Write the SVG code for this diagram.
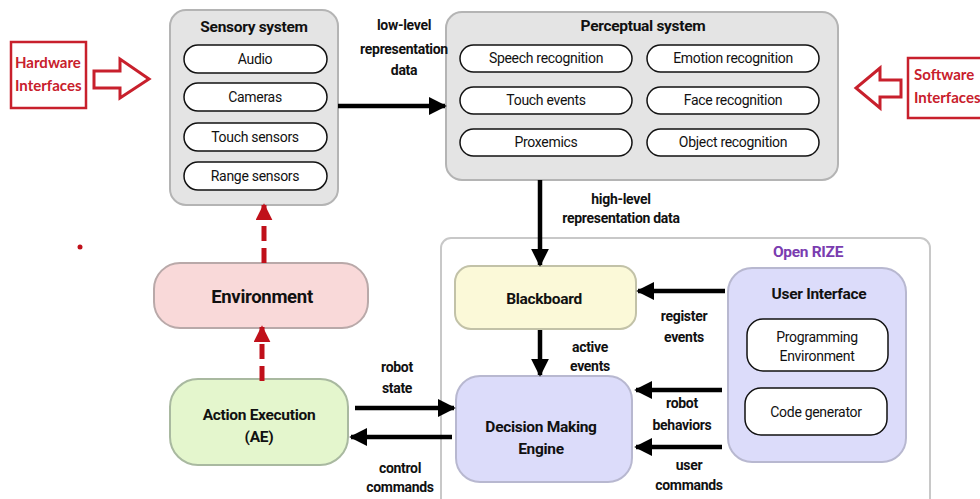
<svg xmlns="http://www.w3.org/2000/svg" width="980" height="499" viewBox="0 0 980 499">
  <style>
    .lbl { font-family: "Roboto", "Liberation Sans", sans-serif; font-weight: bold; font-size: 14px; fill: #111; text-anchor: middle; letter-spacing: -0.3px; }
    .title { font-family: "Roboto", "Liberation Sans", sans-serif; font-weight: bold; font-size: 15.5px; fill: #111; text-anchor: middle; letter-spacing: -0.3px; }
    .item { font-family: "Roboto", "Liberation Sans", sans-serif; font-size: 14px; fill: #111; text-anchor: middle; letter-spacing: -0.3px; }
    .pill { fill: #fff; stroke: #111; stroke-width: 1.5; }
    .group { fill: #e4e4e4; stroke: #b4b4b4; stroke-width: 2; }
    .iface { font-family: "Lato", "Open Sans", sans-serif; font-weight: bold; font-size: 15px; fill: #c8202c; }
    .iframe { fill: #fff; stroke: #c8202c; stroke-width: 2.5; }
    .hollow { fill: #fff; stroke: #c8202c; stroke-width: 3; stroke-linejoin: miter; }
    .flow { stroke: #000; stroke-width: 4.5; fill: none; }
    .dash { stroke: #c0101a; stroke-width: 5; stroke-dasharray: 15 7; fill: none; }
  </style>
  <defs>
    <marker id="ah" viewBox="0 0 10 10" refX="9" refY="5" markerWidth="4" markerHeight="4" markerUnits="strokeWidth" orient="auto">
      <path d="M0,0 L10,5 L0,10 z" fill="#000"/>
    </marker>
    <marker id="ahr" viewBox="0 0 10 10" refX="9" refY="5" markerWidth="3.4" markerHeight="3.4" markerUnits="strokeWidth" orient="auto">
      <path d="M0,0 L10,5 L0,10 z" fill="#c0101a"/>
    </marker>
  </defs>

  <rect width="980" height="499" fill="#fff"/>

  <!-- hardware interfaces callout -->
  <g id="hardware-interfaces">
    <rect class="iframe" x="11" y="42" width="75" height="66"/>
    <text class="iface" x="15" y="68">Hardware</text>
    <text class="iface" x="15" y="91">Interfaces</text>
    <polygon class="hollow" points="94,71 120,71 120,59 149,79 120,98 120,88 94,88"/>
  </g>

  <!-- software interfaces callout -->
  <g id="software-interfaces">
    <rect class="iframe" x="908" y="58" width="80" height="60"/>
    <text class="iface" x="914" y="80">Software</text>
    <text class="iface" x="914" y="103">Interfaces</text>
    <polygon class="hollow" points="901,80 880,80 880,68 856,88 880,108 880,97 901,97"/>
  </g>

  <circle cx="80" cy="247" r="2.5" fill="#c0101a"/>

  <!-- Open RIZE frame -->
  <g id="open-rize">
    <rect x="441" y="238" width="489" height="270" rx="10" fill="#fff" stroke="#c8c8c8" stroke-width="2"/>
    <text x="808" y="257" font-family="Roboto, Liberation Sans, sans-serif" font-weight="bold" font-size="15.5" letter-spacing="-0.3" fill="#7a3cb0" text-anchor="middle">Open RIZE</text>
  </g>

  <!-- Sensory system -->
  <g id="sensory-system">
    <rect class="group" x="170" y="10" width="168" height="195" rx="16"/>
    <text class="title" x="254" y="32">Sensory system</text>
    <rect class="pill" x="184" y="45" width="143" height="28" rx="14"/>
    <text class="item" x="255" y="64">Audio</text>
    <rect class="pill" x="184" y="83" width="143" height="28" rx="14"/>
    <text class="item" x="255" y="102">Cameras</text>
    <rect class="pill" x="184" y="123" width="143" height="28" rx="14"/>
    <text class="item" x="255" y="142">Touch sensors</text>
    <rect class="pill" x="184" y="162" width="143" height="28" rx="14"/>
    <text class="item" x="255" y="181">Range sensors</text>
  </g>

  <!-- Perceptual system -->
  <g id="perceptual-system">
    <rect class="group" x="446" y="12" width="392" height="168" rx="16"/>
    <text class="title" x="643" y="31">Perceptual system</text>
    <rect class="pill" x="460" y="45" width="172" height="27" rx="13.5"/>
    <text class="item" x="546" y="63">Speech recognition</text>
    <rect class="pill" x="647" y="45" width="172" height="27" rx="13.5"/>
    <text class="item" x="733" y="63">Emotion recognition</text>
    <rect class="pill" x="460" y="87" width="172" height="27" rx="13.5"/>
    <text class="item" x="546" y="105">Touch events</text>
    <rect class="pill" x="647" y="87" width="172" height="27" rx="13.5"/>
    <text class="item" x="733" y="105">Face recognition</text>
    <rect class="pill" x="460" y="129" width="172" height="27" rx="13.5"/>
    <text class="item" x="546" y="147">Proxemics</text>
    <rect class="pill" x="647" y="129" width="172" height="27" rx="13.5"/>
    <text class="item" x="733" y="147">Object recognition</text>
  </g>

  <!-- Environment -->
  <g id="environment">
    <rect x="154" y="263" width="214" height="65" rx="26" fill="#f9d9d9" stroke="#b9a9a9" stroke-width="2"/>
    <text x="262" y="303" font-family="Roboto, Liberation Sans, sans-serif" font-weight="bold" font-size="18.5" letter-spacing="-0.3" fill="#111" text-anchor="middle">Environment</text>
  </g>

  <!-- Action Execution -->
  <g id="action-execution">
    <rect x="170" y="379" width="178" height="86" rx="28" fill="#e4f6cd" stroke="#a9b9a0" stroke-width="2"/>
    <text class="title" x="259" y="420">Action Execution</text>
    <text class="title" x="259" y="442">(AE)</text>
  </g>

  <!-- Blackboard -->
  <g id="blackboard">
    <rect x="455" y="266" width="181" height="63" rx="16" fill="#fbf9d8" stroke="#c2c2a8" stroke-width="2"/>
    <text class="title" x="544" y="304">Blackboard</text>
  </g>

  <!-- Decision Making Engine -->
  <g id="decision-making-engine">
    <rect x="456" y="376" width="176" height="106" rx="24" fill="#dcdcfa" stroke="#b8b8d0" stroke-width="2"/>
    <text class="title" x="541" y="432">Decision Making</text>
    <text class="title" x="541" y="454">Engine</text>
  </g>

  <!-- User Interface -->
  <g id="user-interface">
    <rect x="728" y="268" width="178" height="194" rx="24" fill="#dcdcfa" stroke="#b8b8d0" stroke-width="2"/>
    <text class="title" x="819" y="299">User Interface</text>
    <rect class="pill" x="747" y="319" width="141" height="52" rx="16"/>
    <text class="item" x="817" y="342">Programming</text>
    <text class="item" x="817" y="361">Environment</text>
    <rect class="pill" x="745" y="388" width="142" height="47" rx="16"/>
    <text class="item" x="816" y="417">Code generator</text>
  </g>

  <!-- connectors -->
  <g id="connectors">
    <line class="flow" x1="338" y1="106" x2="445" y2="106" marker-end="url(#ah)"/>
    <line class="flow" x1="540" y1="180" x2="540" y2="265" marker-end="url(#ah)"/>
    <line class="flow" x1="540" y1="330" x2="540" y2="375" marker-end="url(#ah)"/>
    <line class="flow" x1="725" y1="291" x2="638" y2="291" marker-end="url(#ah)"/>
    <line class="flow" x1="722" y1="390" x2="636" y2="390" marker-end="url(#ah)"/>
    <line class="flow" x1="722" y1="447" x2="636" y2="447" marker-end="url(#ah)"/>
    <line class="flow" x1="355" y1="408" x2="454" y2="408" marker-end="url(#ah)"/>
    <line class="flow" x1="452" y1="437" x2="351" y2="437" marker-end="url(#ah)"/>
    <line class="dash" x1="264" y1="263" x2="264" y2="205" marker-end="url(#ahr)"/>
    <line class="dash" x1="262" y1="381" x2="262" y2="327" marker-end="url(#ahr)"/>

    <text class="lbl" x="404" y="30">low-level</text>
    <text class="lbl" x="404" y="54">representation</text>
    <text class="lbl" x="404" y="75">data</text>
    <text class="lbl" x="621" y="204">high-level</text>
    <text class="lbl" x="621" y="223">representation data</text>
    <text class="lbl" x="590" y="352">active</text>
    <text class="lbl" x="590" y="371">events</text>
    <text class="lbl" x="684" y="321">register</text>
    <text class="lbl" x="684" y="342">events</text>
    <text class="lbl" x="682" y="408">robot</text>
    <text class="lbl" x="682" y="430">behaviors</text>
    <text class="lbl" x="689" y="470">user</text>
    <text class="lbl" x="689" y="490">commands</text>
    <text class="lbl" x="397" y="372">robot</text>
    <text class="lbl" x="397" y="393">state</text>
    <text class="lbl" x="400" y="473">control</text>
    <text class="lbl" x="400" y="492">commands</text>
  </g>
</svg>
